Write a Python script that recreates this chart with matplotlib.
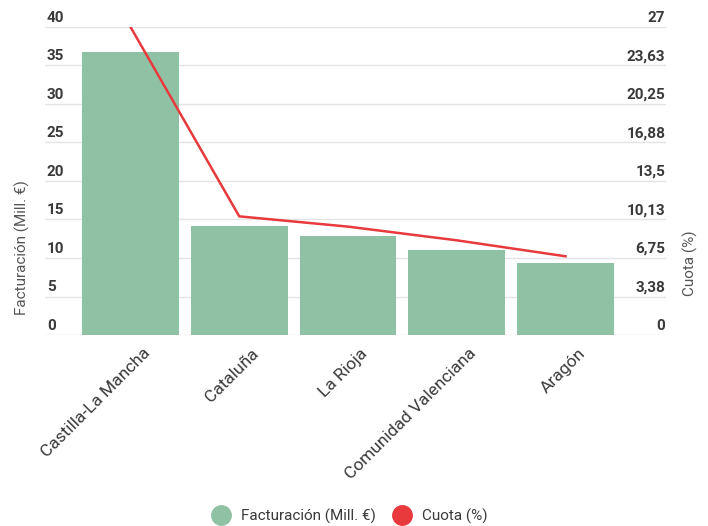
import numpy as np
import matplotlib.pyplot as plt
from matplotlib.lines import Line2D
from matplotlib import transforms

plt.rcParams['font.family'] = ['Roboto', 'DejaVu Sans']

# ==========================================================
# DATA
# ==========================================================

regiones = ["Castilla-La Mancha", "Cataluña", "La Rioja",
            "Comunidad Valenciana", "Aragón"]
facturacion = [36.8, 14.1, 12.9, 11.0, 9.4]
cuota = [27.0, 10.4, 9.5, 8.3, 6.9]

left_ticks = [0, 5, 10, 15, 20, 25, 30, 35, 40]
right_ticks = [0, 3.375, 6.75, 10.125, 13.5, 16.875, 20.25, 23.625, 27]
right_labels = ["0", "3,38", "6,75", "10,13", "13,5", "16,88", "20,25", "23,63", "27"]

# ==========================================================
# STYLE
# ==========================================================

BAR_COLOR = "#8fc2a4"
LINE_COLOR = "#e8393d"
GRID_COLOR = "#e4e4e4"
TICK_COLOR = "#3a3a3a"
LABEL_COLOR = "#555555"

fig = plt.figure(figsize=(7.08, 5.26), dpi=100)
ax = fig.add_axes([0.0636, 0.3631, 0.8771, 0.5856])
ax2 = ax.twinx()

x = np.arange(len(regiones))

ax.bar(x, facturacion, width=0.89, color=BAR_COLOR, zorder=2)
ax2.plot(x, cuota, color=LINE_COLOR, linewidth=1.8, zorder=3)

ax.set_xlim(-0.786, 4.924)
ax.set_ylim(0, 40)
ax2.set_ylim(0, 27)

for a in (ax, ax2):
    for s in a.spines.values():
        s.set_visible(False)
    a.tick_params(left=False, right=False, bottom=False,
                  labelleft=False, labelright=False)

# horizontal grid
for t in left_ticks:
    ax.axhline(t, color=GRID_COLOR, linewidth=1.0, zorder=1)

# left tick labels: left aligned, just above each grid line
tr_left = transforms.blended_transform_factory(ax.transAxes, ax.transData)
for t in left_ticks:
    ax.text(0.003, t + 0.3, str(t), transform=tr_left, ha="left", va="bottom",
            fontsize=11, fontweight="bold", color=TICK_COLOR)

# right tick labels: right aligned, just above each grid line
tr_right = transforms.blended_transform_factory(ax2.transAxes, ax2.transData)
for t, lab in zip(right_ticks, right_labels):
    ax2.text(0.999, t + 0.2, lab, transform=tr_right, ha="right", va="bottom",
             fontsize=11, fontweight="bold", color=TICK_COLOR)

# category labels
ax.set_xticks(x)
ax.set_xticklabels(regiones, rotation=45, ha="right", va="top",
                   rotation_mode="anchor", fontsize=12.5, color=TICK_COLOR)
offset = transforms.ScaledTranslation(12 / 100, -1 / 100, fig.dpi_scale_trans)
for lbl in ax.get_xticklabels():
    lbl.set_transform(lbl.get_transform() + offset)

fig.text(0.031, 0.53, "Facturación (Mill. €)", rotation=90, ha="center",
         va="center", fontsize=11, color=LABEL_COLOR)
fig.text(0.975, 0.50, "Cuota (%)", rotation=90, ha="center",
         va="center", fontsize=11, color=LABEL_COLOR)

# legend
handles = [
    Line2D([], [], marker="o", linestyle="none", markersize=14,
           markerfacecolor=BAR_COLOR, markeredgecolor=BAR_COLOR),
    Line2D([], [], marker="o", linestyle="none", markersize=14,
           markerfacecolor=LINE_COLOR, markeredgecolor=LINE_COLOR),
]
fig.legend(handles, ["Facturación (Mill. €)", "Cuota (%)"],
           loc="center", bbox_to_anchor=(0.49, 0.018), ncol=2,
           frameon=False, fontsize=11, handletextpad=0.3, columnspacing=0.7,
           labelcolor=TICK_COLOR)

fig.savefig("out.png", dpi=100)
